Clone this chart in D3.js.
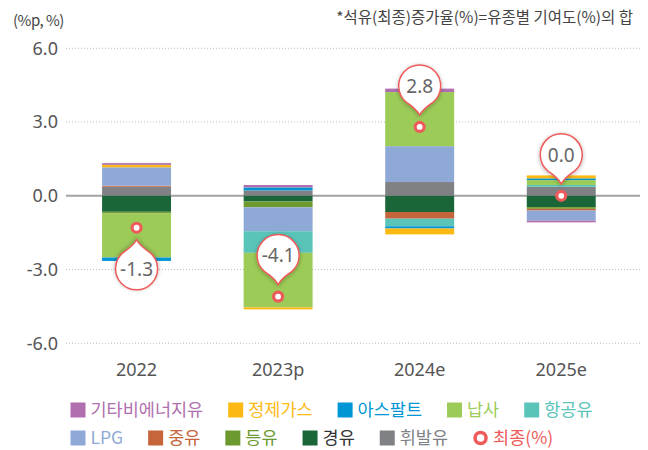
<!DOCTYPE html>
<meta charset="utf-8">
<style>
body { margin: 0; background: #fff; }
svg { font-family: "Noto Sans CJK KR", "Noto Sans", sans-serif; display: block; }
.grid line { stroke: #bdbdbd; stroke-dasharray: 1 2; }
.axis path { display: none; }
.axis text { fill: #555; font-size: 18px; font-family: "Noto Sans", "Noto Sans CJK KR", sans-serif; }
</style>
<body>
<div id="chart"></div>
<script src="https://d3js.org/d3.v7.min.js"></script>
<script>
// categories
var years = ["2022", "2023p", "2024e", "2025e"];

// contribution by product (%p), one array per series
var gasoline  = [0.37, 0.22, 0.56, 0.37];    // 휘발유
var diesel    = [-0.65, -0.23, -0.66, -0.46]; // 경유
var kerosene  = [-0.07, -0.24, 0, -0.07];     // 등유
var fuelOil   = [0.04, 0, -0.27, -0.07];      // 중유
var lpg       = [0.75, -0.97, 1.46, -0.41];   // LPG
var jetFuel   = [0, -0.88, -0.31, 0.07];      // 항공유
var naphtha   = [-1.79, -2.22, 2.2, 0.2];     // 납사
var asphalt   = [-0.14, 0.12, -0.09, 0.07];   // 아스팔트
var refGas    = [0.1, -0.08, -0.24, 0.12];    // 정제가스
var nonEnergy = [0.07, 0.1, 0.14, -0.07];     // 기타비에너지유

// final growth rate (%)
var finalRate = [-1.3, -4.1, 2.8, 0.0];

var yTicks = [-6, -3, 0, 3, 6];

// legend order
var series = [
  { name: "기타비에너지유", values: nonEnergy, color: "#b06fae" },
  { name: "정제가스", values: refGas, color: "#fdb913" },
  { name: "아스팔트", values: asphalt, color: "#0096d6" },
  { name: "납사", values: naphtha, color: "#9dcb58" },
  { name: "항공유", values: jetFuel, color: "#5ac4b9" },
  { name: "LPG", values: lpg, color: "#8fa9d7" },
  { name: "중유", values: fuelOil, color: "#c6643b" },
  { name: "등유", values: kerosene, color: "#6d9a2f" },
  { name: "경유", values: diesel, color: "#1b6639" },
  { name: "휘발유", values: gasoline, color: "#808185" }
];
var finalColor = "#ee5a5a";
var calloutBelow = [true, false, false, false];

var width = 648, height = 450;
var fmt = function(v) { return (+v).toFixed(1); };

var svg = d3.select("#chart").append("svg")
  .attr("width", width)
  .attr("height", height);

var defs = svg.append("defs");
defs.append("filter").attr("id", "shadow")
  .attr("x", "-50%").attr("y", "-50%").attr("width", "200%").attr("height", "200%")
  .append("feDropShadow")
  .attr("dx", 0).attr("dy", 1).attr("stdDeviation", 2)
  .attr("flood-color", "#000").attr("flood-opacity", 0.3);

var x = d3.scaleBand().domain(years).range([65.7, 632.1])
  .paddingInner(0.513).paddingOuter(0.257);
var y = d3.scaleLinear().domain([-6, 6]).range([343.3, 48.3]);

// grid
svg.append("g").attr("class", "grid")
  .selectAll("line")
  .data(yTicks.filter(function(d) { return d !== 0; }))
  .enter().append("line")
  .attr("x1", 66).attr("x2", 640)
  .attr("y1", function(d) { return y(d); })
  .attr("y2", function(d) { return y(d); });

svg.append("line")
  .attr("x1", 66).attr("x2", 640)
  .attr("y1", y(0)).attr("y2", y(0))
  .attr("stroke", "#a3a3a3").attr("stroke-width", 2);

// stacked bars (stack from zero: reverse of legend order)
var table = years.map(function(yr, i) {
  var row = { year: yr };
  series.forEach(function(s) { row[s.name] = s.values[i]; });
  return row;
});
var stackKeys = series.map(function(s) { return s.name; }).reverse();
var color = d3.scaleOrdinal().domain(series.map(function(s) { return s.name; }))
  .range(series.map(function(s) { return s.color; }));

var layers = d3.stack().keys(stackKeys).offset(d3.stackOffsetDiverging)(table);

svg.append("g").selectAll("g")
  .data(layers)
  .enter().append("g")
  .attr("fill", function(d) { return color(d.key); })
  .selectAll("rect")
  .data(function(d) { return d; })
  .enter().append("rect")
  .attr("x", function(d) { return x(d.data.year); })
  .attr("width", x.bandwidth())
  .attr("y", function(d) { return y(d[1]); })
  .attr("height", function(d) { return Math.abs(y(d[0]) - y(d[1])); });

// axes
svg.append("g").attr("class", "axis")
  .attr("transform", "translate(66,0)")
  .call(d3.axisLeft(y).tickValues(yTicks).tickFormat(fmt).tickSize(0).tickPadding(8));

svg.append("g").attr("class", "axis")
  .attr("transform", "translate(0,343)")
  .call(d3.axisBottom(x).tickSize(0).tickPadding(20));

// callouts for the final rate
function pinPath(r, d) {
  var t = 40 * Math.PI / 180;
  var px = r * Math.sin(t), py = r * Math.cos(t);
  var cy = d - (d - py) * 0.45;
  return "M0," + d +
    "Q" + (px * 0.22) + "," + cy + " " + px + "," + py +
    "A" + r + "," + r + " 0 1 0 " + (-px) + "," + py +
    "Q" + (-px * 0.22) + "," + cy + " 0," + d + "Z";
}

var callouts = svg.append("g").selectAll("g")
  .data(years)
  .enter().append("g")
  .attr("transform", function(d, i) {
    var cx = x(d) + x.bandwidth() / 2;
    var off = calloutBelow[i] ? 41 : -41;
    return "translate(" + cx + "," + (y(finalRate[i]) + off) + ")";
  });

callouts.append("path")
  .attr("d", pinPath(21, 29))
  .attr("transform", function(d, i) { return calloutBelow[i] ? "rotate(180)" : null; })
  .attr("fill", "#fff")
  .attr("stroke", finalColor)
  .attr("stroke-width", 1.5)
  .attr("filter", "url(#shadow)");

callouts.append("text")
  .attr("text-anchor", "middle")
  .attr("dy", "0.36em")
  .attr("fill", "#666")
  .style("font-size", "19px")
  .style("font-family", "'Noto Sans', sans-serif")
  .text(function(d, i) { return fmt(finalRate[i]); });

svg.append("g").selectAll("circle")
  .data(years)
  .enter().append("circle")
  .attr("cx", function(d) { return x(d) + x.bandwidth() / 2; })
  .attr("cy", function(d, i) { return y(finalRate[i]); })
  .attr("r", 4.5)
  .attr("fill", "#fff")
  .attr("stroke", finalColor)
  .attr("stroke-width", 3.2);

// header texts
svg.append("text")
  .attr("x", 13).attr("y", 26)
  .attr("fill", "#444")
  .style("font-size", "15px")
  .style("letter-spacing", "-0.5px")
  .text("(%p, %)");

svg.append("text")
  .attr("x", 633).attr("y", 23)
  .attr("text-anchor", "end")
  .attr("fill", "#444")
  .style("font-size", "15.5px")
  .text("*석유(최종)증가율(%)=유종별 기여도(%)의 합");

// legend
var legendRows = [series.slice(0, 5), series.slice(5).concat([{ name: "최종(%)", color: finalColor, marker: true }])];
var rowY = [410, 438];

legendRows.forEach(function(row, r) {
  var cursor = 70.5;
  row.forEach(function(item) {
    var g = svg.append("g").attr("transform", "translate(" + cursor + "," + rowY[r] + ")");
    if (item.marker) {
      g.append("circle").attr("cx", 7.5).attr("cy", 0).attr("r", 5.5)
        .attr("fill", "#fff").attr("stroke", item.color).attr("stroke-width", 3.5);
    } else {
      g.append("rect").attr("x", 0).attr("y", -7.5).attr("width", 15).attr("height", 15)
        .attr("fill", item.color);
    }
    var t = g.append("text")
      .attr("x", 20).attr("dy", "0.36em")
      .attr("fill", item.name === "경유" ? "#333" : item.color)
      .style("font-size", "17.5px")
      .text(item.name);
    cursor += 20 + t.node().getComputedTextLength() + 25;
  });
});
</script>
